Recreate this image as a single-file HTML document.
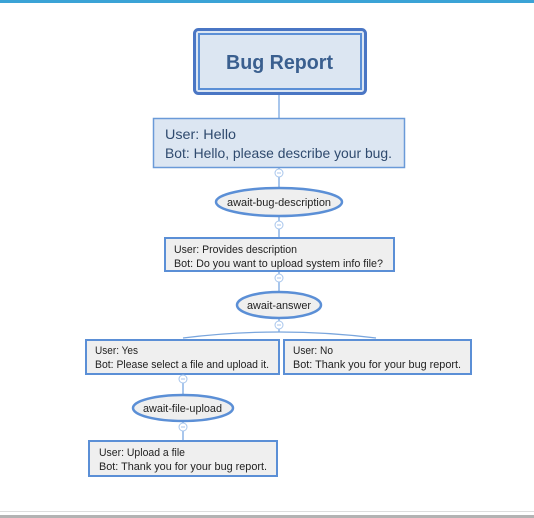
<!DOCTYPE html>
<html><head><style>
html,body{margin:0;padding:0;background:#fff;width:534px;height:518px;overflow:hidden}
svg{display:block}
text{font-family:"Liberation Sans",sans-serif}
</style></head><body>
<svg width="534" height="518" viewBox="0 0 534 518">
<rect x="0" y="0" width="534" height="3" fill="#3ba3d6"/>
<rect x="0" y="511" width="534" height="1" fill="#dddddd"/>
<rect x="0" y="515" width="534" height="3" fill="#b3b3b3"/>
<g stroke="#a8c6ec" stroke-width="2" fill="none">
<line x1="279" y1="94" x2="279" y2="118"/>
<line x1="279" y1="168" x2="279" y2="188"/>
<line x1="279" y1="216" x2="279" y2="237"/>
<line x1="279" y1="271" x2="279" y2="292"/>
<line x1="279" y1="318" x2="279" y2="332"/>
<path d="M183 338 Q279 326 376 338" stroke-width="1.3" stroke="#7aa6dd"/>
<line x1="183" y1="374" x2="183" y2="395"/>
<line x1="183" y1="421" x2="183" y2="440"/>
</g>
<rect x="194.5" y="29.5" width="171" height="64" rx="4" fill="#dce6f2" stroke="#4a76c4" stroke-width="3"/>
<rect x="199" y="34" width="162" height="55" fill="none" stroke="#5b8fd6" stroke-width="2"/>
<text x="226" y="69" font-size="20" font-weight="bold" fill="#3a5f8f" textLength="107" lengthAdjust="spacingAndGlyphs">Bug Report</text>
<rect x="153.5" y="118.5" width="251" height="49" fill="#dce6f2" stroke="#6a9ad8" stroke-width="1.5"/>
<text font-size="14" fill="#2f4a6e"><tspan x="165" y="139" textLength="71" lengthAdjust="spacingAndGlyphs">User: Hello</tspan></text>
<text font-size="14" fill="#2f4a6e"><tspan x="165" y="158" textLength="227" lengthAdjust="spacingAndGlyphs">Bot: Hello, please describe your bug.</tspan></text>
<ellipse cx="279" cy="202" rx="63" ry="14" fill="#efefef" stroke="#5b8fd6" stroke-width="2.5"/>
<text x="227" y="206" font-size="11" fill="#222" textLength="104" lengthAdjust="spacingAndGlyphs">await-bug-description</text>
<rect x="165" y="238" width="229" height="33" fill="#efefef" stroke="#5b8fd6" stroke-width="2"/>
<text x="174" y="253" font-size="11" fill="#222" textLength="123" lengthAdjust="spacingAndGlyphs">User: Provides description</text>
<text x="174" y="267" font-size="11" fill="#222" textLength="209" lengthAdjust="spacingAndGlyphs">Bot: Do you want to upload system info file?</text>
<ellipse cx="279" cy="305" rx="42" ry="13" fill="#efefef" stroke="#5b8fd6" stroke-width="2.5"/>
<text x="247" y="309" font-size="11" fill="#222" textLength="64" lengthAdjust="spacingAndGlyphs">await-answer</text>
<rect x="86" y="340" width="193" height="34" fill="#efefef" stroke="#5b8fd6" stroke-width="2"/>
<text x="95" y="354" font-size="11" fill="#222" textLength="43" lengthAdjust="spacingAndGlyphs">User: Yes</text>
<text x="95" y="368" font-size="11" fill="#222" textLength="174" lengthAdjust="spacingAndGlyphs">Bot: Please select a file and upload it.</text>
<rect x="284" y="340" width="187" height="34" fill="#efefef" stroke="#5b8fd6" stroke-width="2"/>
<text x="293" y="354" font-size="11" fill="#222" textLength="40" lengthAdjust="spacingAndGlyphs">User: No</text>
<text x="293" y="368" font-size="11" fill="#222" textLength="168" lengthAdjust="spacingAndGlyphs">Bot: Thank you for your bug report.</text>
<ellipse cx="183" cy="408" rx="50" ry="13" fill="#efefef" stroke="#5b8fd6" stroke-width="2.5"/>
<text x="143" y="412" font-size="11" fill="#222" textLength="79" lengthAdjust="spacingAndGlyphs">await-file-upload</text>
<rect x="89" y="441" width="188" height="35" fill="#efefef" stroke="#5b8fd6" stroke-width="2"/>
<text x="99" y="456" font-size="11" fill="#222" textLength="86" lengthAdjust="spacingAndGlyphs">User: Upload a file</text>
<text x="99" y="470" font-size="11" fill="#222" textLength="168" lengthAdjust="spacingAndGlyphs">Bot: Thank you for your bug report.</text>
<g fill="#fff" stroke="#a8c6ec" stroke-width="1">
<circle cx="279" cy="173" r="4"/><circle cx="279" cy="225" r="4"/>
<circle cx="279" cy="278" r="4"/><circle cx="279" cy="325" r="4"/>
<circle cx="183" cy="379" r="4"/><circle cx="183" cy="427" r="4"/>
</g>
<g stroke="#a8c6ec" stroke-width="1">
<line x1="277" y1="173" x2="281" y2="173"/><line x1="277" y1="225" x2="281" y2="225"/>
<line x1="277" y1="278" x2="281" y2="278"/><line x1="277" y1="325" x2="281" y2="325"/>
<line x1="181" y1="379" x2="185" y2="379"/><line x1="181" y1="427" x2="185" y2="427"/>
</g>
</svg>
</body></html>
